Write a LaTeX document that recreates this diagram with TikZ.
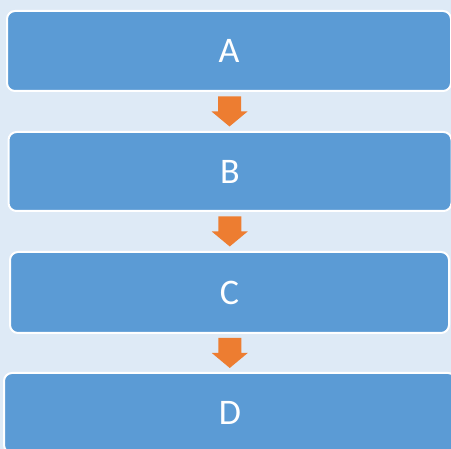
\documentclass[tikz,border=0pt]{standalone}
\usepackage{fontspec}
\setmainfont{Carlito}
\usetikzlibrary{calc}
\definecolor{bgcol}{HTML}{DEEAF6}
\definecolor{boxcol}{HTML}{5B9BD5}
\definecolor{arrcol}{HTML}{ED7D31}
\tikzset{
  stepbox/.style={draw=white, line width=2pt, fill=boxcol, rounded corners=8pt,
    text=white, font=\fontsize{36}{40}\selectfont, inner sep=0pt},
  blockarrow/.style={fill=arrcol}
}
\newcommand{\myblockarrow}[2]{%
  \coordinate (m#1#2) at ($(#1.south)!0.5!(#2.north)$);
  \fill[blockarrow] ($(m#1#2)+(-11.5,-15)$) -- ($(m#1#2)+(11.5,-15)$) -- ($(m#1#2)+(11.5,0)$)
    -- ($(m#1#2)+(18,0)$) -- ($(m#1#2)+(0,15)$) -- ($(m#1#2)+(-18,0)$) -- ($(m#1#2)+(-11.5,0)$) -- cycle;
}
\begin{document}
\begin{tikzpicture}[x=1pt,y=-1pt]
\useasboundingbox (0,0) rectangle (451,449);
\clip (0,0) rectangle (451,449);
\fill[bgcol] (0,0) rectangle (451,449);
\node[stepbox, minimum width=444pt, minimum height=80pt] (A) at (229,51) {A};
\node[stepbox, minimum width=443pt, minimum height=79pt] (B) at (230,171.5) {B};
\node[stepbox, minimum width=439pt, minimum height=81pt] (C) at (229.5,292.5) {C};
\node[stepbox, minimum width=452pt, minimum height=80pt] (D) at (230,413) {D};
\myblockarrow{A}{B}
\myblockarrow{B}{C}
\myblockarrow{C}{D}
\end{tikzpicture}
\end{document}
